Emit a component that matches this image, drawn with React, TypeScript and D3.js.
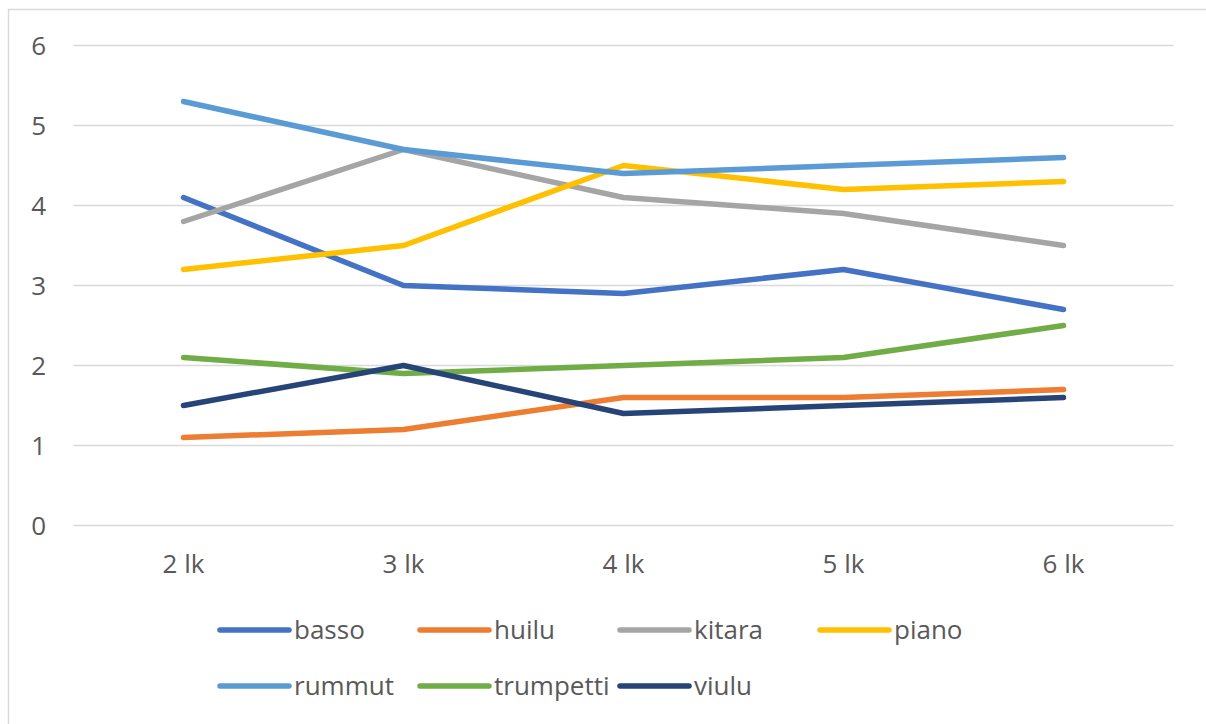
import React from "react";
import * as d3 from "d3";

const categories = ["2 lk", "3 lk", "4 lk", "5 lk", "6 lk"];
const seriesNames = ["basso", "huilu", "kitara", "piano", "rummut", "trumpetti", "viulu"];
const basso = [4.1, 3.0, 2.9, 3.2, 2.7];
const huilu = [1.1, 1.2, 1.6, 1.6, 1.7];
const kitara = [3.8, 4.7, 4.1, 3.9, 3.5];
const piano = [3.2, 3.5, 4.5, 4.2, 4.3];
const rummut = [5.3, 4.7, 4.4, 4.5, 4.6];
const trumpetti = [2.1, 1.9, 2.0, 2.1, 2.5];
const viulu = [1.5, 2.0, 1.4, 1.5, 1.6];
const yTicks = [0, 1, 2, 3, 4, 5, 6];
const colors = ["#4472C4", "#ED7D31", "#A5A5A5", "#FFC000", "#5B9BD5", "#70AD47", "#264478"];

const seriesValues = [basso, huilu, kitara, piano, rummut, trumpetti, viulu];

const W = 1206;
const H = 724;
const FONT = "'Open Sans', sans-serif";
const TEXT = "#595959";

export default function App() {
  const x = d3.scaleBand<string>().domain(categories).range([73.5, 1173.5]);
  const y = d3.scaleLinear().domain([0, 6]).range([525.5, 45.5]);
  const cx = (c: string) => (x(c) ?? 0) + x.bandwidth() / 2;
  const line = d3
    .line<number>()
    .x((_, i) => cx(categories[i]))
    .y((v) => y(v));

  const legendCols = [220, 420, 620, 820];
  const legendRows = [630, 686];

  return (
    <svg
      width={W}
      height={H}
      style={{ position: "absolute", left: 0, top: 0, background: "#fff" }}
      fontFamily={FONT}
    >
      <rect x={8.5} y={9.5} width={1210} height={730} fill="#fff" stroke="#d9d9d9" strokeWidth={1.5} />
      {yTicks.map((t) => (
        <g key={t}>
          <line x1={73.5} x2={1173.5} y1={y(t)} y2={y(t)} stroke="#d9d9d9" strokeWidth={1.5} />
          <text x={46} y={y(t)} dy="0.35em" textAnchor="end" fontSize={26} fill={TEXT}>
            {t}
          </text>
        </g>
      ))}
      {categories.map((c) => (
        <text key={c} x={cx(c)} y={573} textAnchor="middle" fontSize={26} fill={TEXT}>
          {c}
        </text>
      ))}
      {seriesValues.map((vals, i) => (
        <path
          key={seriesNames[i]}
          d={line(vals) ?? ""}
          fill="none"
          stroke={colors[i]}
          strokeWidth={5.5}
          strokeLinecap="round"
          strokeLinejoin="round"
        />
      ))}
      {seriesNames.map((name, i) => {
        const lx = legendCols[i % 4];
        const ly = legendRows[Math.floor(i / 4)];
        return (
          <g key={name}>
            <line x1={lx} x2={lx + 69} y1={ly} y2={ly} stroke={colors[i]} strokeWidth={5.5} strokeLinecap="round" />
            <text x={lx + 74} y={ly} dy="0.35em" fontSize={26} fill={TEXT}>
              {name}
            </text>
          </g>
        );
      })}
    </svg>
  );
}
